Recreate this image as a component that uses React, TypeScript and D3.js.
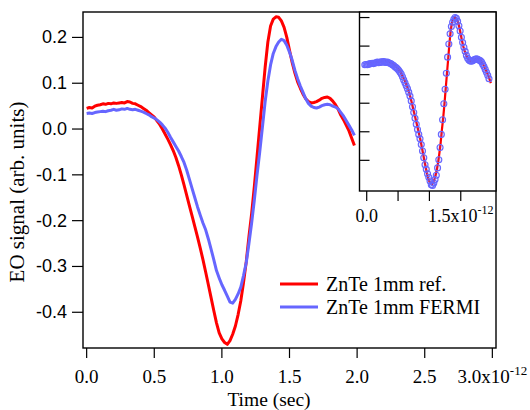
import React from "react";
import * as d3 from "d3";

// time axis in picoseconds (plotted as x10^-12 s)
const timePs = [
  0.0, 0.02, 0.04, 0.06, 0.08, 0.1, 0.12, 0.14, 0.16, 0.18,
  0.2, 0.22, 0.24, 0.26, 0.28, 0.3, 0.32, 0.34, 0.36, 0.38,
  0.4, 0.42, 0.44, 0.46, 0.48, 0.5, 0.52, 0.54, 0.56, 0.58,
  0.6, 0.62, 0.64, 0.66, 0.68, 0.7, 0.72, 0.74, 0.76, 0.78,
  0.8, 0.82, 0.84, 0.86, 0.88, 0.9, 0.92, 0.94, 0.96, 0.98,
  1.0, 1.02, 1.04, 1.06, 1.08, 1.1, 1.12, 1.14, 1.16, 1.18,
  1.2, 1.22, 1.24, 1.26, 1.28, 1.3, 1.32, 1.34, 1.36, 1.38,
  1.4, 1.42, 1.44, 1.46, 1.48, 1.5, 1.52, 1.54, 1.56, 1.58,
  1.6, 1.62, 1.64, 1.66, 1.68, 1.7, 1.72, 1.74, 1.76, 1.78,
  1.8, 1.82, 1.84, 1.86, 1.88, 1.9, 1.92, 1.94, 1.96, 1.98,
];

const refSignal = [
  0.045, 0.047, 0.046, 0.05, 0.052, 0.053, 0.055, 0.054, 0.056, 0.055,
  0.057, 0.056, 0.057, 0.058, 0.057, 0.06, 0.059, 0.056, 0.055, 0.052,
  0.049, 0.045, 0.041, 0.036, 0.031, 0.026, 0.018, 0.01, 0.0, -0.011,
  -0.022, -0.034, -0.047, -0.062, -0.08, -0.1, -0.122, -0.145, -0.168, -0.19,
  -0.213, -0.236, -0.26, -0.285, -0.312, -0.34, -0.368, -0.396, -0.423, -0.445,
  -0.458, -0.466, -0.47, -0.462, -0.448, -0.43, -0.405, -0.375, -0.335, -0.29,
  -0.235, -0.185, -0.125, -0.06, 0.005, 0.07, 0.135, 0.19, 0.225, 0.24,
  0.245, 0.244, 0.236, 0.222, 0.2, 0.172, 0.145, 0.122, 0.103, 0.089,
  0.076, 0.066, 0.06, 0.057, 0.058, 0.06, 0.063, 0.067, 0.069, 0.07,
  0.067, 0.061, 0.053, 0.043, 0.03, 0.02, 0.008, -0.004, -0.02, -0.036,
];

const fermiSignal = [
  0.034, 0.035, 0.034, 0.036, 0.037, 0.038, 0.039, 0.038, 0.04, 0.041,
  0.043, 0.041, 0.042, 0.044, 0.043, 0.045, 0.043, 0.042, 0.043, 0.041,
  0.039, 0.037, 0.034, 0.031, 0.027, 0.024, 0.02, 0.015, 0.009, 0.002,
  -0.007, -0.018, -0.028, -0.038, -0.048, -0.06, -0.073, -0.09, -0.11, -0.13,
  -0.15, -0.17, -0.188, -0.205, -0.22, -0.24, -0.262, -0.285, -0.309, -0.325,
  -0.34, -0.352, -0.365, -0.378, -0.38, -0.372, -0.36, -0.345, -0.32, -0.292,
  -0.25, -0.205, -0.155, -0.1, -0.05, 0.005, 0.06, 0.105, 0.14, 0.165,
  0.18, 0.19, 0.196, 0.193, 0.183, 0.168, 0.15, 0.128, 0.11, 0.094,
  0.08, 0.066, 0.056, 0.05, 0.047, 0.046, 0.048, 0.051, 0.053, 0.054,
  0.053, 0.05, 0.048, 0.044, 0.036, 0.028, 0.018, 0.008, -0.002, -0.014,
];

const seriesNames = ["ZnTe 1mm ref.", "ZnTe 1mm FERMI"];
const seriesColors = ["#ff0000", "#6666ff"];

const xTicks = [0, 0.5, 1.0, 1.5, 2.0, 2.5, 3.0];
const yTicks = [-0.4, -0.3, -0.2, -0.1, 0.0, 0.1, 0.2];
const insetXTicks = [0, 0.5, 1.0, 1.5];
const insetYTicks = [-1.5, -1.0, -0.5, 0, 0.5, 1.0];
const insetShiftPs = -0.03; // FERMI trace moved onto the ref. trace in the inset

const W = 530;
const H = 410;
const frame = { left: 83, right: 496, top: 12, bottom: 348 };
const inset = { left: 359.5, right: 496, top: 12, bottom: 191 };
const serif = "'Liberation Serif', 'Times New Roman', serif";
const sans = "'Liberation Sans', Arial, sans-serif";

// plain hyphen for negatives, like the original
const fmt = (v: number) => v.toFixed(1);

export default function App() {
  const x = d3.scaleLinear().domain([-0.027, 3.027]).range([frame.left, frame.right]);
  const y = d3.scaleLinear().domain([-0.478, 0.2555]).range([frame.bottom, frame.top]);

  const ix = d3.scaleLinear().domain([-0.115, 2.062]).range([inset.left, inset.right]);
  const iy = d3.scaleLinear().domain([-2.037, 1.097]).range([inset.bottom, inset.top]);

  const refMax = d3.max(refSignal) as number;
  const fermiMax = d3.max(fermiSignal) as number;

  const line = d3
    .line<number>()
    .x((_, i) => x(timePs[i]))
    .y((d) => y(d));

  const insetRefLine = d3
    .line<number>()
    .x((_, i) => ix(timePs[i]))
    .y((d) => iy(d / refMax));

  return (
    <svg
      width={W}
      height={H}
      style={{ position: "absolute", left: 0, top: 0, background: "#fff" }}
    >
      {/* main traces */}
      <path d={line(refSignal) || ""} fill="none" stroke={seriesColors[0]} strokeWidth={3} strokeLinejoin="round" />
      <path d={line(fermiSignal) || ""} fill="none" stroke={seriesColors[1]} strokeWidth={3} strokeLinejoin="round" />

      {/* main frame */}
      <rect
        x={frame.left}
        y={frame.top}
        width={frame.right - frame.left}
        height={frame.bottom - frame.top}
        fill="none"
        stroke="#000"
        strokeWidth={1.4}
      />

      {/* y axis */}
      {yTicks.map((t) => (
        <g key={"y" + t}>
          <line x1={frame.left - 11} x2={frame.left} y1={y(t)} y2={y(t)} stroke="#000" strokeWidth={1.2} />
          <text x={frame.left - 16} y={y(t) + 6} textAnchor="end" fontFamily={sans} fontSize={18}>
            {fmt(t)}
          </text>
        </g>
      ))}

      {/* x axis */}
      {xTicks.map((t) => (
        <g key={"x" + t}>
          <line x1={x(t)} x2={x(t)} y1={frame.bottom} y2={frame.bottom + 10} stroke="#000" strokeWidth={1.2} />
          <text x={x(t)} y={383} textAnchor="middle" fontFamily={serif} fontSize={19}>
            {fmt(t)}
            {t === 3 && (
              <>
                <tspan>x10</tspan>
                <tspan dy={-8} fontSize={13}>-12</tspan>
              </>
            )}
          </text>
        </g>
      ))}

      <text x={269} y={406} textAnchor="middle" fontFamily={serif} fontSize={19.5}>
        Time (sec)
      </text>
      <text
        transform="translate(24,192) rotate(-90)"
        textAnchor="middle"
        fontFamily={serif}
        fontSize={21}
      >
        EO signal (arb. units)
      </text>

      {/* legend */}
      {seriesNames.map((name, i) => (
        <g key={name}>
          <line x1={280} x2={318} y1={284 + i * 23} y2={284 + i * 23} stroke={seriesColors[i]} strokeWidth={3} />
          <text x={326} y={291 + i * 23} fontFamily={serif} fontSize={20}>
            {name}
          </text>
        </g>
      ))}

      {/* inset */}
      <rect
        x={inset.left}
        y={inset.top}
        width={inset.right - inset.left}
        height={inset.bottom - inset.top}
        fill="#fff"
        stroke="#000"
        strokeWidth={1.4}
      />
      <path d={insetRefLine(refSignal) || ""} fill="none" stroke={seriesColors[0]} strokeWidth={2.2} />
      {fermiSignal.map((d, i) => (
        <circle
          key={"c" + i}
          cx={ix(timePs[i] + insetShiftPs)}
          cy={iy(d / fermiMax)}
          r={3}
          fill="rgba(102,102,255,0.15)"
          stroke={seriesColors[1]}
          strokeWidth={1.1}
        />
      ))}
      {insetYTicks.map((t) => (
        <line key={"iy" + t} x1={inset.left} x2={inset.left + 10} y1={iy(t)} y2={iy(t)} stroke="#000" strokeWidth={1.2} />
      ))}
      {insetXTicks.map((t) => (
        <line key={"ix" + t} x1={ix(t)} x2={ix(t)} y1={inset.bottom} y2={inset.bottom + 10} stroke="#000" strokeWidth={1.2} />
      ))}
      <text x={ix(0)} y={222} textAnchor="middle" fontFamily={serif} fontSize={18}>
        0.0
      </text>
      <text x={ix(1.5)} y={222} textAnchor="middle" fontFamily={serif} fontSize={18}>
        1.5x10
        <tspan dy={-8} fontSize={12}>-12</tspan>
      </text>
    </svg>
  );
}
